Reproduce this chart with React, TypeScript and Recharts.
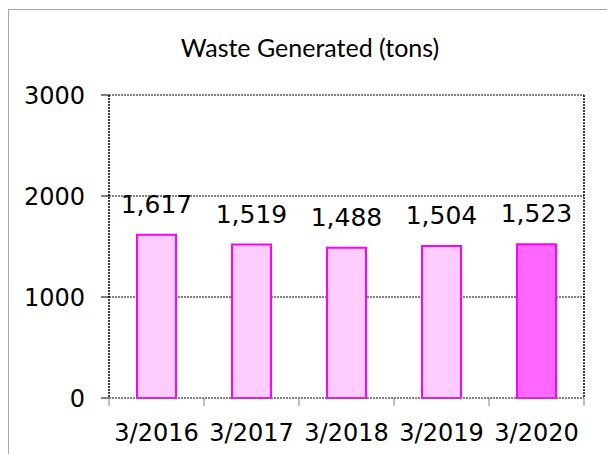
import { BarChart, Bar, XAxis, YAxis, CartesianGrid, Cell, LabelList } from 'recharts';

const categories = ['3/2016', '3/2017', '3/2018', '3/2019', '3/2020'];
const wasteTons = [1617, 1519, 1488, 1504, 1523];
const yTicks = [0, 1000, 2000, 3000];

const chartData = categories.map((label, i) => ({ name: label, value: wasteTons[i] }));

const AXIS_FONT = "'DejaVu Sans', Verdana, sans-serif";
const CHART_W = 600;
const Y_AXIS_W = 100;
const RIGHT_AXIS_W = 2;
const MARGIN_RIGHT = 23;
const TICK_SIZE = 8;
const TICK_MARGIN = 18;
// width of one category band, so the ticks can sit on the category edges like Excel does
const BAND = (CHART_W - Y_AXIS_W - RIGHT_AXIS_W - MARGIN_RIGHT) / categories.length;

function EdgeTick(props: any) {
  const { x, y, payload, index } = props;
  const axisY = y - TICK_SIZE - TICK_MARGIN;
  const isLast = index === categories.length - 1;
  return (
    <g>
      <line x1={x - BAND / 2} y1={axisY} x2={x - BAND / 2} y2={axisY + TICK_SIZE} stroke="#808080" />
      {isLast && (
        <line x1={x + BAND / 2} y1={axisY} x2={x + BAND / 2} y2={axisY + TICK_SIZE} stroke="#808080" />
      )}
      <text x={x} y={y} dy="0.71em" textAnchor="middle" fill="#000" fontSize={24} fontFamily={AXIS_FONT}>
        {payload.value}
      </text>
    </g>
  );
}

export default function App() {
  return (
    <div
      style={{
        position: 'fixed',
        left: 8,
        top: 9,
        width: 620,
        height: 470,
        border: '1px solid #a6a6a6',
        background: '#fff',
      }}
    >
      <div
        style={{
          position: 'absolute',
          left: 0,
          top: 25,
          width: 602,
          textAlign: 'center',
          fontFamily: 'Lato, sans-serif',
          fontSize: 25,
          lineHeight: '25px',
          color: '#000',
        }}
      >
        Waste Generated (tons)
      </div>
      <BarChart
        width={CHART_W}
        height={445}
        data={chartData}
        margin={{ top: 85, right: MARGIN_RIGHT, left: 0, bottom: 7 }}
      >
        <CartesianGrid vertical={false} stroke="#000" strokeDasharray="2 1" />
        <XAxis
          dataKey="name"
          height={50}
          axisLine={{ stroke: '#808080', strokeDasharray: '2 1' }}
          tickLine={false}
          tickSize={TICK_SIZE}
          tickMargin={TICK_MARGIN}
          tick={<EdgeTick />}
          interval={0}
        />
        <YAxis
          width={Y_AXIS_W}
          domain={[0, 3000]}
          ticks={yTicks}
          tickSize={8}
          tickMargin={16}
          axisLine={{ stroke: '#000', strokeWidth: 1.5, strokeDasharray: '2 1' }}
          tickLine={{ stroke: '#000' }}
          tick={{ fill: '#000', fontSize: 24, fontFamily: AXIS_FONT }}
        />
        <YAxis
          yAxisId="frame"
          orientation="right"
          width={RIGHT_AXIS_W}
          domain={[0, 3000]}
          tick={false}
          tickLine={false}
          axisLine={{ stroke: '#000', strokeWidth: 1.5, strokeDasharray: '2 1' }}
        />
        <Bar dataKey="value" barSize={39} stroke="#ff00ff" strokeWidth={2} isAnimationActive={false}>
          {chartData.map((_, i) => (
            <Cell key={`cell-${i}`} fill={i === chartData.length - 1 ? '#ff66ff' : '#ffccff'} />
          ))}
          <LabelList
            dataKey="value"
            position="top"
            offset={22}
            formatter={(v: number) => v.toLocaleString('en-US')}
            style={{ fill: '#000', fontSize: 25, fontFamily: AXIS_FONT }}
          />
        </Bar>
      </BarChart>
    </div>
  );
}
